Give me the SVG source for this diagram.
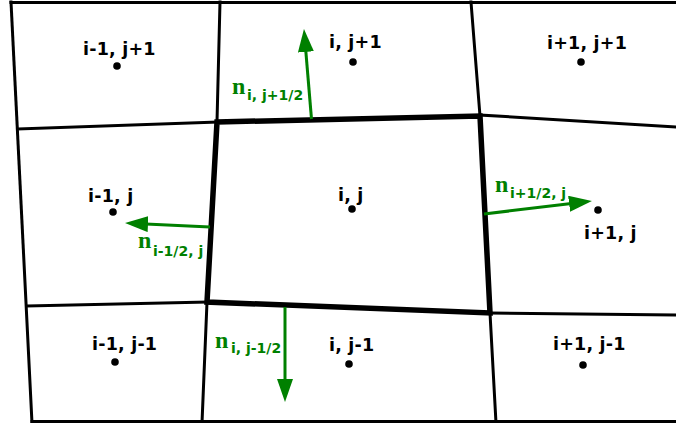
<svg xmlns="http://www.w3.org/2000/svg" width="676" height="423" viewBox="0 0 676 423">
<style>
.g{fill:none;stroke:#000;stroke-width:3;stroke-linecap:square}
.thick{fill:none;stroke:#000;stroke-width:5.5;stroke-linejoin:miter}
.lbl{font-family:"DejaVu Sans",Verdana,sans-serif;font-weight:bold;font-size:17.5px;fill:#000;letter-spacing:0.2px}
.dot{fill:#000}
.arr{stroke:#008000;stroke-width:3;fill:none}
.n{font-family:"Liberation Serif","Times New Roman",serif;font-weight:bold;font-size:24px;fill:#008000}
.sub{font-family:"DejaVu Sans",Verdana,sans-serif;font-weight:bold;font-size:14px;fill:#008000}
</style>
<defs>
<marker id="ah" markerUnits="userSpaceOnUse" viewBox="0 0 23 16" markerWidth="23" markerHeight="16" refX="13" refY="8" orient="auto">
<path d="M0,0 L23,8 L0,16 Z" fill="#008000"/>
</marker>
</defs>
<rect width="676" height="423" fill="#fff"/>
<g id="grid">
<path class="g" d="M11,2.5 L676,2.5"/>
<path class="g" d="M11,2 L32,423"/>
<path class="g" d="M220,2 L217,122"/>
<path class="g" d="M207,302 L202,423"/>
<path class="g" d="M471,2 L480,116"/>
<path class="g" d="M490,313 L496,423"/>
<path class="g" d="M18,129 L217,122"/>
<path class="g" d="M480,115 L676,127"/>
<path class="g" d="M27,306 L207,302"/>
<path class="g" d="M490,313 L676,315"/>
<path class="g" d="M32,421.5 L676,421.5"/>
<path class="thick" d="M217,122 L480,116 L490,313 L207,302 Z"/>
</g>
<g id="cell-im1-jp1"><text class="lbl" x="83" y="55">i-1, j+1</text><circle class="dot" cx="117" cy="66" r="3.8"/></g>
<g id="cell-i-jp1"><text class="lbl" x="329" y="48">i, j+1</text><circle class="dot" cx="353" cy="62" r="3.8"/></g>
<g id="cell-ip1-jp1"><text class="lbl" x="547" y="49">i+1, j+1</text><circle class="dot" cx="581" cy="62" r="3.8"/></g>
<g id="cell-im1-j"><text class="lbl" x="88" y="202">i-1, j</text><circle class="dot" cx="113" cy="212" r="3.8"/></g>
<g id="cell-i-j"><text class="lbl" x="338" y="201">i, j</text><circle class="dot" cx="352" cy="209" r="3.8"/></g>
<g id="cell-ip1-j"><text class="lbl" x="584" y="239">i+1, j</text><circle class="dot" cx="598" cy="210" r="3.8"/></g>
<g id="cell-im1-jm1"><text class="lbl" x="92" y="350">i-1, j-1</text><circle class="dot" cx="115" cy="362" r="3.8"/></g>
<g id="cell-i-jm1"><text class="lbl" x="329" y="351">i, j-1</text><circle class="dot" cx="349" cy="364" r="3.8"/></g>
<g id="cell-ip1-jm1"><text class="lbl" x="553" y="350">i+1, j-1</text><circle class="dot" cx="583" cy="365" r="3.8"/></g>
<g id="connectors">
<line class="arr" x1="311.5" y1="119" x2="304.8" y2="39" marker-end="url(#ah)"/>
<line class="arr" x1="210" y1="227" x2="135" y2="223.5" marker-end="url(#ah)"/>
<line class="arr" x1="484" y1="214" x2="582" y2="202.2" marker-end="url(#ah)"/>
<line class="arr" x1="285" y1="307" x2="285" y2="392" marker-end="url(#ah)"/>
</g>
<g id="normal-labels">
<text class="n" x="232" y="94">n</text><text class="sub" x="247" y="100">i, j+1/2</text>
<text class="n" x="138" y="248">n</text><text class="sub" x="153" y="256">i-1/2, j</text>
<text class="n" x="495" y="192">n</text><text class="sub" x="510" y="198">i+1/2, j</text>
<text class="n" x="215" y="348">n</text><text class="sub" x="231" y="353">i, j-1/2</text>
</g>
</svg>
